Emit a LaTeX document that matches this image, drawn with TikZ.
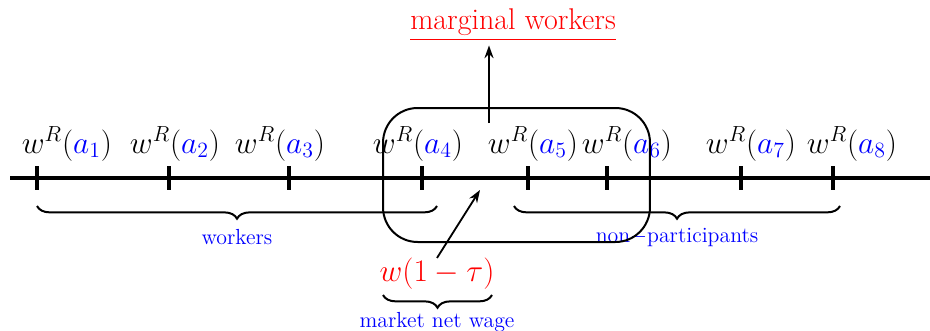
\documentclass[tikz,border=0pt]{standalone}
\usepackage{amsmath, amssymb}
\usepackage{xcolor}
\usepackage{tikz}
\usetikzlibrary{arrows.meta, positioning, calc, decorations.pathreplacing}

\begin{document}
\begin{tikzpicture}[x=0.55pt, y=-0.55pt, every node/.style={inner sep=0pt},
    tickmark/.style={line width=2.1pt},
    wlab/.style={font=\LARGE, anchor=base},
    brc/.style={decorate, decoration={brace, mirror, amplitude=7pt}, line width=1.1pt},
    blulab/.style={blue, font=\large},
    uparrow/.style={-{Stealth[length=7pt, width=5pt]}, line width=1pt}]
  \useasboundingbox (0,0) rectangle (930,331);
  % the wage axis with its reservation wages
  \draw[line width=2.1pt] (10,178) -- (930,178);
  \foreach \x/\i in {37/1, 169/2, 289/3, 422/4, 528/5, 607/6, 741/7, 833/8} {
    \coordinate (t\i) at (\x,178);
    \draw[tickmark] ($(t\i)+(0,-12)$) -- ($(t\i)+(0,12)$);
  }
  \foreach \x/\i in {67/1, 175/2, 280/3, 418/4, 533/5, 627/6, 751/7, 852/8}
    \node[wlab] (w\i) at (\x,153) {$w^R(\textcolor{blue}{a_\i})$};
  % groups below the axis
  \draw[brc] (37,206) -- (437,206);
  \node[blulab] (wklab) at (237,237) {workers};
  \draw[brc] (514,206) -- (840,206);
  \node[blulab] (nplab) at (677,237) {non$-$participants};
  % marginal workers
  \node[draw, rounded corners=19pt, line width=1.1pt, minimum width=146.8pt,
        minimum height=73.7pt] (mbox) at (516.5,175) {};
  \node[red, font=\fontsize{16.5}{20}\selectfont] (mw) at (513,25) {\underline{marginal workers}};
  \coordinate (mstart) at (489,123);
  \draw[uparrow] (mstart) -- ([yshift=-2pt]mstart |- mw.south);
  % market net wage
  \node[red, font=\LARGE] (wg) at (437,274) {$w(1-\tau)$};
  \coordinate (wtip) at (480,190);
  \draw[uparrow] (wg.north) -- (wtip);
  \draw[brc] (383,295) -- (492,295);
  \node[blulab] (mnw) at (437,322) {market net wage};
\end{tikzpicture}
\end{document}
